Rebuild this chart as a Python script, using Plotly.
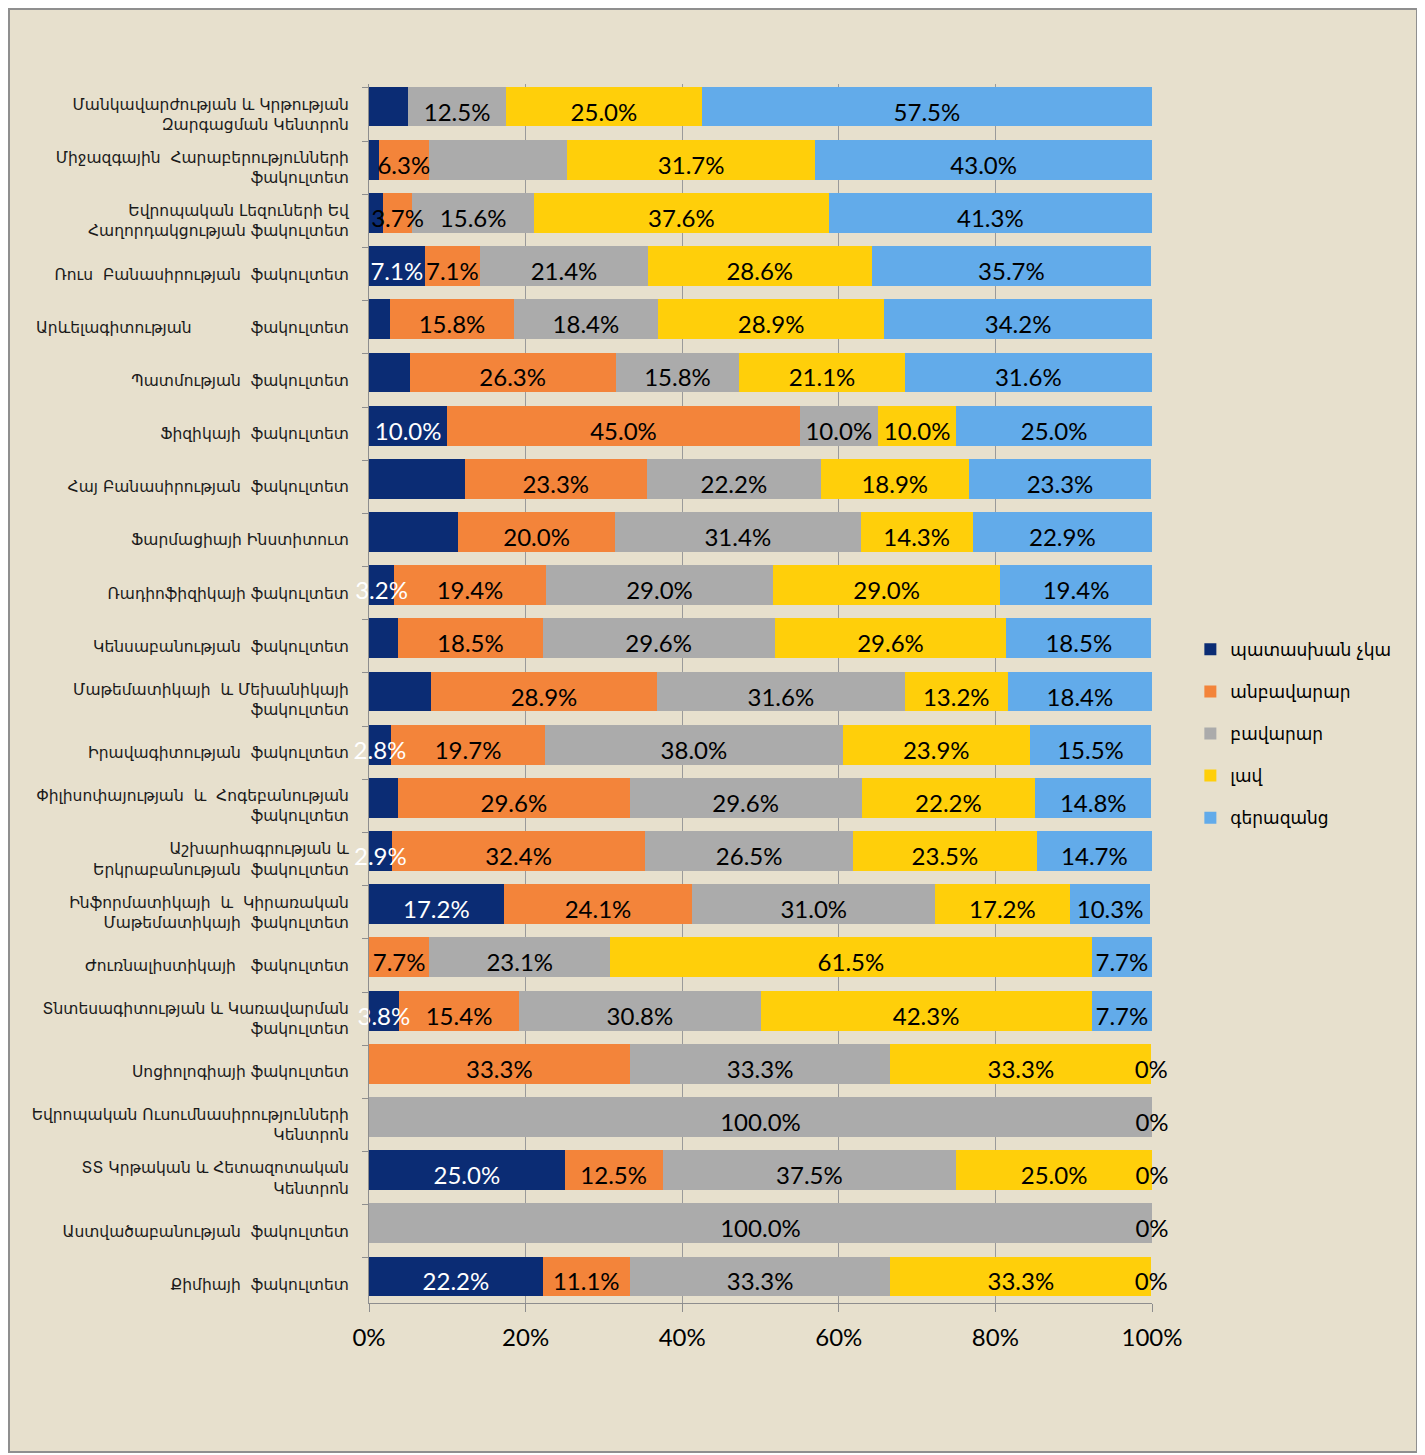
import plotly.graph_objects as go

categories = [
    "Մանկավարժության և Կրթության<br>Զարգացման Կենտրոն",
    "Միջազգային  Հարաբերությունների<br>ֆակուլտետ",
    "Եվրոպական Լեզուների Եվ<br>Հաղորդակցության ֆակուլտետ",
    "Ռուս  Բանասիրության  ֆակուլտետ",
    "Արևելագիտության\u00a0\u00a0\u00a0\u00a0\u00a0\u00a0\u00a0\u00a0\u00a0\u00a0\u00a0\u00a0ֆակուլտետ",
    "Պատմության  ֆակուլտետ",
    "Ֆիզիկայի  ֆակուլտետ",
    "Հայ Բանասիրության  ֆակուլտետ",
    "Ֆարմացիայի Ինստիտուտ",
    "Ռադիոֆիզիկայի ֆակուլտետ",
    "Կենսաբանության  ֆակուլտետ",
    "Մաթեմատիկայի  և Մեխանիկայի<br>ֆակուլտետ",
    "Իրավագիտության  ֆակուլտետ",
    "Փիլիսոփայության  և  Հոգեբանության<br>ֆակուլտետ",
    "Աշխարհագրության և<br>Երկրաբանության  ֆակուլտետ",
    "Ինֆորմատիկայի  և  Կիրառական<br>Մաթեմատիկայի  ֆակուլտետ",
    "Ժուռնալիստիկայի   ֆակուլտետ",
    "Տնտեսագիտության և Կառավարման<br>ֆակուլտետ",
    "Սոցիոլոգիայի ֆակուլտետ",
    "Եվրոպական Ուսումնասիրությունների<br>Կենտրոն",
    "ՏՏ Կրթական և Հետազոտական<br>Կենտրոն",
    "Աստվածաբանության  ֆակուլտետ",
    "Քիմիայի  ֆակուլտետ",
]

series_names = ["պատասխան չկա", "անբավարար", "բավարար", "լավ", "գերազանց"]

no_answer = [5.0, 1.3, 1.8, 7.1, 2.7, 5.2, 10.0, 12.2, 11.4, 3.2, 3.7, 7.9,
             2.8, 3.7, 2.9, 17.2, 0.0, 3.8, 0.0, 0.0, 25.0, 0.0, 22.2]
unsatisfactory = [0.0, 6.3, 3.7, 7.1, 15.8, 26.3, 45.0, 23.3, 20.0, 19.4, 18.5, 28.9,
                  19.7, 29.6, 32.4, 24.1, 7.7, 15.4, 33.3, 0.0, 12.5, 0.0, 11.1]
satisfactory = [12.5, 17.7, 15.6, 21.4, 18.4, 15.8, 10.0, 22.2, 31.4, 29.0, 29.6, 31.6,
                38.0, 29.6, 26.5, 31.0, 23.1, 30.8, 33.3, 100.0, 37.5, 100.0, 33.3]
good = [25.0, 31.7, 37.6, 28.6, 28.9, 21.1, 10.0, 18.9, 14.3, 29.0, 29.6, 13.2,
        23.9, 22.2, 23.5, 17.2, 61.5, 42.3, 33.3, 0.0, 25.0, 0.0, 33.3]
excellent = [57.5, 43.0, 41.3, 35.7, 34.2, 31.6, 25.0, 23.3, 22.9, 19.4, 18.5, 18.4,
             15.5, 14.8, 14.7, 10.3, 7.7, 7.7, 0.0, 0.0, 0.0, 0.0, 0.0]

# segments whose data labels are not displayed in the original (row index per series)
hidden_labels = {
    0: [0, 1, 2, 4, 5, 7, 8, 10, 11, 13],
    2: [1],
}

tick_vals = [0, 20, 40, 60, 80, 100]
tick_text = ["0%", "20%", "40%", "60%", "80%", "100%"]

colors = ["#0B2C74", "#F3843A", "#ABABAB", "#FFCF0A", "#62ABEA"]
text_colors = ["white", "black", "black", "black", "black"]

all_series = [no_answer, unsatisfactory, satisfactory, good, excellent]

W, H = 1410, 1445
ML, MR, MT, MB = 361, 266, 76, 150
PW, PH = W - ML - MR, H - MT - MB
n = len(categories)

fig = go.Figure()
# bars (drawn slightly above the category centre like the 3-D original)
for si, (name, vals) in enumerate(zip(series_names, all_series)):
    fig.add_trace(go.Bar(
        y=categories, x=vals, name=name, orientation="h",
        width=0.75, offset=-0.525,
        marker=dict(color=colors[si], line=dict(width=0)),
        legendgroup=name, hoverinfo="x+name",
    ))

# data labels on top of all bars, at the middle of every segment
lab_x, lab_y, lab_t, lab_c = [], [], [], []
cum = [0.0] * n
for si, vals in enumerate(all_series):
    hidden = set(hidden_labels.get(si, []))
    for ri, v in enumerate(vals):
        mid = cum[ri] + v / 2
        cum[ri] += v
        if si == 4 and v == 0:
            lab_x.append(mid); lab_y.append(categories[ri]); lab_t.append("0%"); lab_c.append("black")
        elif v > 0 and ri not in hidden:
            lab_x.append(mid); lab_y.append(categories[ri]); lab_t.append(f"{v:.1f}%"); lab_c.append(text_colors[si])

fig.add_trace(go.Scatter(
    x=lab_x, y=lab_y, text=lab_t, mode="text", textposition="middle center",
    textfont=dict(family="Lato, DejaVu Sans", size=24, color=lab_c),
    showlegend=False, hoverinfo="skip", cliponaxis=False,
))

fig.update_layout(
    width=W, height=H,
    barmode="stack",
    paper_bgcolor="#E7E0CD", plot_bgcolor="#E7E0CD",
    margin=dict(l=ML, r=MR, t=MT, b=MB, autoexpand=False),
    showlegend=True,
    legend=dict(x=1.049, y=0.467, xanchor="left", yanchor="middle",
                traceorder="grouped", tracegroupgap=17,
                font=dict(family="DejaVu Sans", size=17, color="black"),
                bgcolor="rgba(0,0,0,0)", itemwidth=30),
    font=dict(family="DejaVu Sans", color="black"),
    xaxis=dict(range=[0, 100], tickvals=tick_vals, ticktext=tick_text,
               showgrid=True, gridcolor="#9A9A9A", gridwidth=1,
               showline=True, linecolor="#8E8E8E", ticks="outside", ticklen=8,
               tickcolor="#8E8E8E", zeroline=False, ticklabelstandoff=5,
               tickfont=dict(family="Lato, DejaVu Sans", size=24, color="black")),
    yaxis=dict(range=[n - 1 + 0.348, -0.574], type="category",
               showline=True, linecolor="#8E8E8E",
               ticks="outside", ticklen=6, tickcolor="#8E8E8E", tickson="boundaries",
               ticklabelstandoff=16,
               tickfont=dict(family="DejaVu Sans", size=15.5, color="#1A1A1A")),
    shapes=[dict(type="rect", xref="paper", yref="paper",
                 x0=-(ML - 1) / PW, x1=1 + (MR - 1) / PW,
                 y0=-(MB - 1) / PH, y1=1 + (MT - 1) / PH,
                 line=dict(color="#8F8F8F", width=2), layer="below")],
)

fig.write_html("out.html")
